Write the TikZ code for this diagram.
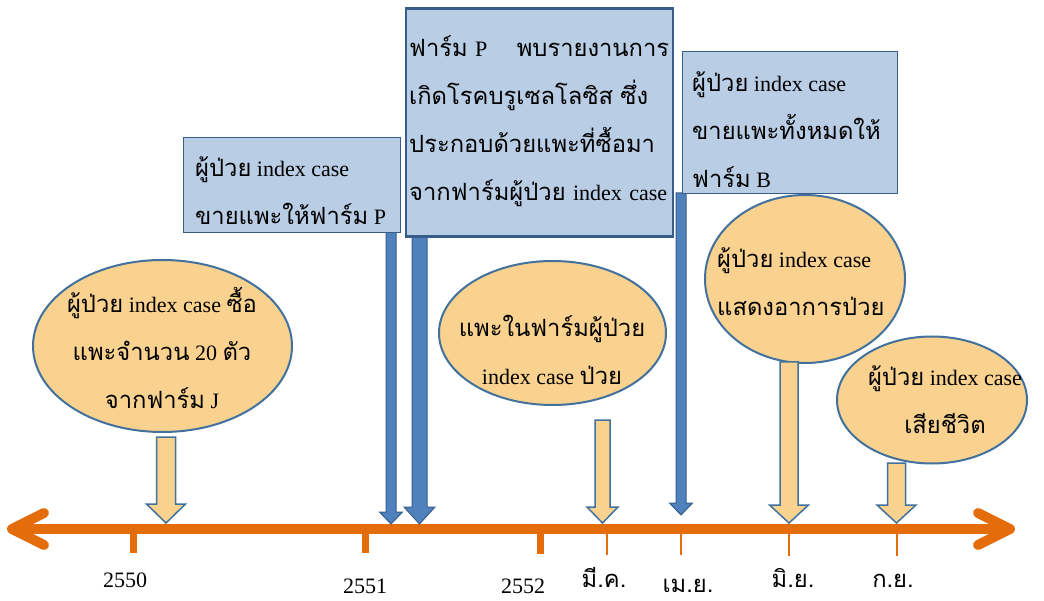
\documentclass[tikz,border=0pt]{standalone}
\usepackage{fontspec}
\setmainfont{Liberation Serif}
\newfontfamily\tf[Script=Thai,Scale=1.08]{Loma}
\usetikzlibrary{shapes.geometric}
\definecolor{tlorange}{HTML}{E46C0A}
\definecolor{ofill}{HTML}{FAD28F}
\definecolor{bline}{HTML}{41719C}
\definecolor{bdark}{HTML}{385D8A}
\definecolor{bfill}{HTML}{4F81BD}
\definecolor{boxfill}{HTML}{B9CDE5}
\tikzset{
  tl/.style={draw=tlorange,line width=10pt},
  tickthick/.style={draw=tlorange,line width=7pt},
  tickthin/.style={draw=tlorange,line width=2.5pt},
  oval/.style={ellipse,draw=bline,line width=2pt,fill=ofill,inner sep=0pt},
  infobox/.style={draw=bdark,line width=0.8pt,fill=boxfill,inner sep=0pt,rectangle},
  txt/.style={font=\fontsize{22}{48}\selectfont,inner sep=0pt},
  lbl/.style={font=\fontsize{22}{26}\selectfont,inner sep=0pt,anchor=base},
  oarr/.style={draw=bline,line width=1.5pt,fill=ofill,line join=miter},
  barr/.style={draw=bdark,line width=1pt,fill=bfill,line join=miter}
}
% #1 x, #2 top, #3 tip, #4 shaft w, #5 head w, #6 head len, #7 style
\newcommand\blockarrow[7]{%
  \draw[#7] ({#1-#4/2},#2) -- ({#1+#4/2},#2) -- ({#1+#4/2},{#3-#6}) -- ({#1+#5/2},{#3-#6})
    -- (#1,#3) -- ({#1-#5/2},{#3-#6}) -- ({#1-#4/2},{#3-#6}) -- cycle;}
\begin{document}
\begin{tikzpicture}[x=1pt,y=-1pt]
\useasboundingbox (0,0) rectangle (1044,601);
\fill[white] (0,0) rectangle (1044,601);
% timeline
\coordinate (tlL) at (12,529);
\coordinate (tlR) at (1010,529);
\draw[tl] (tlL) -- (tlR);
\draw[tl,line cap=round,line join=round] (44,513) -- (tlL) -- (44,545);
\draw[tl,line cap=round,line join=round] (978,513) -- (tlR) -- (978,545);
% ticks
\draw[tickthick] (133,529) -- (133,553);
\draw[tickthick] (365,529) -- (365,553);
\draw[tickthick] (540,529) -- (540,554);
\draw[tickthin] (607,529) -- (607,555);
\draw[tickthin] (681,529) -- (681,555);
\draw[tickthin] (789,529) -- (789,556);
\draw[tickthin] (897,529) -- (897,556);
% labels
\node[lbl] (l2550) at (125,587) {2550};
\node[lbl] (l2551) at (365,593) {2551};
\node[lbl] (l2552) at (523,593) {2552};
\node[lbl] (lmar) at (604,587) {\tf มี.ค.};
\node[lbl] (lapr) at (688,592) {\tf เม.ย.};
\node[lbl] (ljun) at (793,587) {\tf มิ.ย.};
\node[lbl] (lsep) at (893,587) {\tf ก.ย.};
% blue arrows
\blockarrow{391}{232}{524}{10}{23}{12}{barr}
\blockarrow{419.5}{236}{524}{15}{31}{17}{barr}
\blockarrow{681}{193}{515}{10}{23}{12}{barr}
% boxes
\node[infobox,minimum width=217pt,minimum height=95pt] (b1) at (291.5,184.5) {};
\node[infobox,minimum width=267pt,minimum height=228pt,line width=2.5pt,draw=bdark] (b2) at (539.5,122.5) {};
\node[infobox,minimum width=215pt,minimum height=142pt] (b3) at (789.5,122) {};
\node[txt,align=left,anchor=west] (b1t) at (195,191) {{\tf ผู้ป่วย} index case\\{\tf ขายแพะให้ฟาร์ม} P};
\node[txt,align=left,text width=260pt,anchor=north west] (b2t) at (409,35) {{\tf ฟาร์ม} P\hfill{\tf พบรายงานการ}\\{\tf เกิดโรคบรูเซลโลซิส ซึ่ง}\\{\tf ประกอบด้วยแพะที่ซื้อมา}\\{\tf จากฟาร์มผู้ป่วย} index case};
\node[txt,align=left,anchor=west] (b3t) at (692,130) {{\tf ผู้ป่วย} index case\\{\tf ขายแพะทั้งหมดให้}\\{\tf ฟาร์ม} B};
% ellipses
\node[oval,minimum width=259pt,minimum height=172pt] (e1) at (162.5,346) {};
\node[oval,minimum width=227pt,minimum height=144pt] (e2) at (552.5,333) {};
\node[oval,minimum width=200pt,minimum height=168pt] (e3) at (805,279) {};
\node[oval,minimum width=190pt,minimum height=127pt] (e4) at (932,400) {};
\node[txt,align=center] (e1t) at (162,348) {{\tf ผู้ป่วย} index case {\tf ซื้อ}\\{\tf แพะจำนวน} 20 {\tf ตัว}\\{\tf จากฟาร์ม} J};
\node[txt,align=center] (e2t) at (552,350) {{\tf แพะในฟาร์มผู้ป่วย}\\index case {\tf ป่วย}};
\node[txt,align=left,anchor=west] (e3t) at (717,282) {{\tf ผู้ป่วย} index case\\{\tf แสดงอาการป่วย}};
\node[txt,align=center] (e4t) at (945,400) {{\tf ผู้ป่วย} index case\\{\tf เสียชีวิต}};
% orange arrows
\blockarrow{166}{437}{523}{19}{39}{19}{oarr}
\blockarrow{602.5}{420}{523}{15}{31}{16}{oarr}
\blockarrow{789}{362}{523}{18}{39}{18}{oarr}
\blockarrow{896.5}{463}{523}{18}{39}{18}{oarr}
\end{tikzpicture}
\end{document}
